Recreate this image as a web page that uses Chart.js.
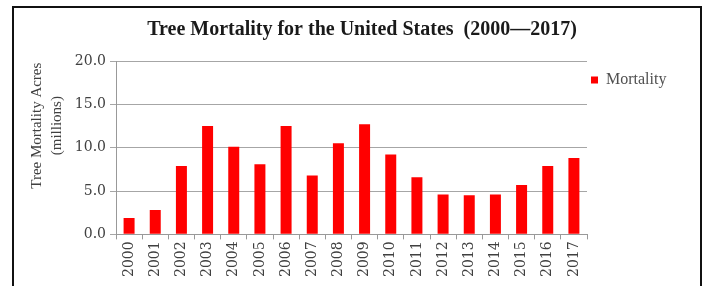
<!DOCTYPE html>
<html>
<head>
<meta charset="utf-8">
<script src="https://cdn.jsdelivr.net/npm/chart.js@4.4.1/dist/chart.umd.min.js"></script>
<style>
  body { margin: 0; background: #fff; }
  .frame { position: absolute; left: 12px; top: 6px; width: 690px; height: 300px; border: 2px solid #111; box-sizing: border-box; }
  #wrap { position: absolute; left: 0; top: 0; width: 710px; height: 286px; }
</style>
</head>
<body>
<div class="frame"></div>
<div id="wrap"><canvas id="chart" width="710" height="286"></canvas></div>
<script>
// data
const years = ['2000', '2001', '2002', '2003', '2004', '2005', '2006', '2007', '2008',
  '2009', '2010', '2011', '2012', '2013', '2014', '2015', '2016', '2017'];
const mortality = [1.9, 2.8, 7.9, 12.5, 10.1, 8.1, 12.5, 6.8, 10.5,
  12.7, 9.2, 6.6, 4.6, 4.5, 4.6, 5.7, 7.9, 8.8];
const yTicks = { min: 0, max: 20, step: 5 };

const serif = '"Liberation Serif", "DejaVu Serif", serif';
const digits = '"DejaVu Serif", serif';

// legend width fixed, and nudged down a bit like the original
const legendShift = {
  id: 'legendShift',
  beforeInit(chart) {
    const fit = chart.legend.fit;
    chart.legend.fit = function () {
      fit.call(this);
      this.width = 123;
    };
  },
  beforeDraw(chart) {
    const lg = chart.legend;
    const h = lg.bottom - lg.top;
    lg.top = chart.chartArea.top + 7;
    lg.bottom = lg.top + h;
  },
};

new Chart(document.getElementById('chart'), {
  type: 'bar',
  data: {
    labels: years,
    datasets: [
      {
        label: 'Mortality',
        data: mortality,
        backgroundColor: '#ff0000',
        borderWidth: 0,
        barPercentage: 0.42,
        categoryPercentage: 1,
      },
    ],
  },
  options: {
    responsive: false,
    animation: false,
    layout: { padding: { left: 14, right: 0, top: 18, bottom: 7 } },
    plugins: {
      title: {
        display: true,
        text: 'Tree Mortality for the United States  (2000\u20142017)',
        color: '#1a1a1a',
        font: { family: serif, size: 20, weight: 'bold', lineHeight: 1.2 },
        padding: { top: 0, bottom: 19 },
      },
      legend: {
        position: 'right',
        align: 'start',
        labels: {
          boxWidth: 7,
          boxHeight: 7,
          padding: 4,
          color: '#505050',
          font: { family: serif, size: 16 },
        },
      },
      tooltip: { enabled: false },
    },
    scales: {
      x: {
        grid: {
          display: true,
          drawOnChartArea: false,
          offset: true,
          tickLength: 5,
          color: '#999',
        },
        border: { color: '#999' },
        ticks: {
          minRotation: 90,
          maxRotation: 90,
          color: '#404040',
          padding: 2,
          font: { family: digits, size: 14 },
        },
      },
      y: {
        min: yTicks.min,
        max: yTicks.max,
        afterFit(scale) {
          scale.width = 102;
          // the axis title sits above the middle in the original
          if (!scale._titleMoved) {
            const drawTitle = scale.drawTitle;
            scale.drawTitle = function () {
              this.ctx.save();
              this.ctx.translate(0, -22);
              drawTitle.call(this);
              this.ctx.restore();
            };
            scale._titleMoved = true;
          }
        },
        grid: { color: '#a6a6a6', tickLength: 6 },
        border: { color: '#999' },
        ticks: {
          stepSize: yTicks.step,
          color: '#404040',
          padding: 4,
          font: { family: digits, size: 14 },
          callback: (v) => v.toFixed(1),
        },
        title: {
          display: true,
          text: ['Tree Mortality Acres', '(millions)'],
          color: '#404040',
          padding: { top: 13, bottom: 0 },
          font: { family: serif, size: 15, lineHeight: 1.35 },
        },
      },
    },
  },
  plugins: [legendShift],
});
</script>
</body>
</html>
